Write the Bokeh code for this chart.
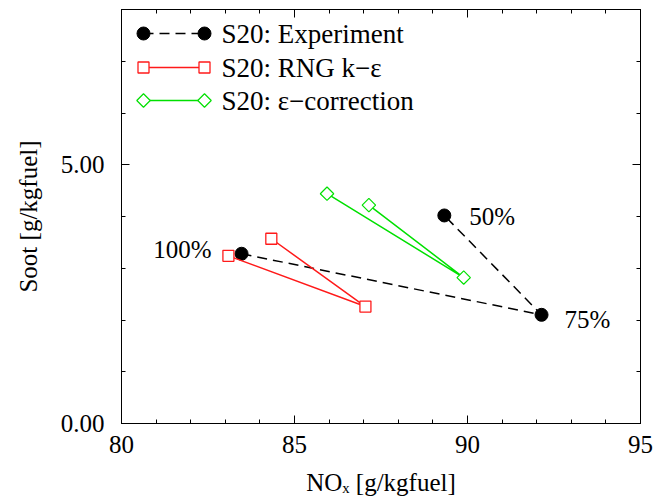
import math
from bokeh.plotting import figure
from bokeh.models import Label, LinearAxis, FixedTicker, NumeralTickFormatter, Range1d
from bokeh.embed import file_html
from bokeh.resources import INLINE

# ---------------- data ----------------
exp_nox = [83.47, 92.14, 89.33]
exp_soot = [3.28, 2.10, 4.02]
exp_load = ["100%", "75%", "50%"]
rng_nox = [83.09, 87.05, 84.33]
rng_soot = [3.24, 2.26, 3.57]
eps_nox = [85.94, 89.89, 87.15]
eps_soot = [4.44, 2.82, 4.22]
series_names = ["S20: Experiment", "S20: RNG k\u2212\u03b5", "S20: \u03b5\u2212correction"]
x_title = "NO\u2093 [g/kgfuel]"
y_title = "Soot [g/kgfuel]"
x_major = [80, 85, 90, 95]
x_minor = list(range(80, 96))
y_major = [0, 5]
y_minor = list(range(0, 9))
x_lo, x_hi = 80, 95
y_lo, y_hi = 0, 8

# ---------------- layout ----------------
W, H = 672, 500
ML, MR, MT = 121, 32, 9
FRAME_BOTTOM = 423
MB = H - FRAME_BOTTOM
FW, FH = W - ML - MR, FRAME_BOTTOM - MT
FONT = "Liberation Serif"
BLACK = "black"
RED = "#ff1a1a"
GREEN = "#00e000"

p = figure(width=W, height=H, x_range=Range1d(x_lo, x_hi), y_range=Range1d(y_lo, y_hi),
           output_backend="svg", toolbar_location=None,
           min_border_left=ML, min_border_right=MR, min_border_top=MT, min_border_bottom=MB)
p.grid.visible = False
p.outline_line_color = "black"
p.outline_line_width = 1
p.background_fill_color = "white"
p.border_fill_color = "white"

def style_axis(ax, show_labels, ticks):
    ax.axis_line_color = "black"
    ax.axis_line_width = 1
    ax.major_tick_in = 8
    ax.major_tick_out = 0
    ax.minor_tick_in = 4
    ax.minor_tick_out = 0
    ax.major_tick_line_color = "black"
    ax.minor_tick_line_color = "black"
    ax.major_label_text_font = FONT
    ax.major_label_text_color = "black"
    ax.major_label_text_font_size = "25px"
    ax.axis_label_text_font = FONT
    ax.axis_label_text_font_size = "25px"
    ax.axis_label_text_font_style = "normal"
    ax.axis_label_text_color = "black"
    if not show_labels:
        ax.major_label_overrides = {t: "" for t in ticks}
        ax.major_label_standoff = 0

xb = p.xaxis[0]
xb.ticker = FixedTicker(ticks=x_major, minor_ticks=x_minor)
style_axis(xb, True, x_major)
xb.major_label_standoff = 12
xb.axis_label = x_title
xb.axis_label_standoff = 13

yl = p.yaxis[0]
yl.ticker = FixedTicker(ticks=y_major, minor_ticks=y_minor)
yl.formatter = NumeralTickFormatter(format="0.00")
style_axis(yl, True, y_major)
yl.major_label_standoff = 17
yl.axis_label = y_title
yl.axis_label_standoff = 16

xt = LinearAxis(ticker=FixedTicker(ticks=x_major, minor_ticks=x_minor))
style_axis(xt, False, x_major)
p.add_layout(xt, "above")
yr = LinearAxis(ticker=FixedTicker(ticks=y_major, minor_ticks=y_minor))
style_axis(yr, False, y_major)
p.add_layout(yr, "right")

# ---------------- series ----------------
p.line(exp_nox, exp_soot, line_color=BLACK, line_width=1.5, line_dash="10 6")
p.scatter(exp_nox, exp_soot, marker="circle", size=13, fill_color=BLACK, line_color=BLACK)

p.line(rng_nox, rng_soot, line_color=RED, line_width=1.5)
p.scatter(rng_nox, rng_soot, marker="square", size=11, fill_color="white", line_color=RED, line_width=1.3)

p.line(eps_nox, eps_soot, line_color=GREEN, line_width=1.5)
p.scatter(eps_nox, eps_soot, marker="square", size=9.5, angle=math.pi / 4,
          fill_color="white", line_color=GREEN, line_width=1.2)

# load labels next to experiment points
label_offsets = {"100%": (-30, 4, "right"), "75%": (23, -5, "left"), "50%": (25, -1, "left")}
for xv, yv, txt in zip(exp_nox, exp_soot, exp_load):
    dx, dy, align = label_offsets[txt]
    p.add_layout(Label(x=xv, y=yv, x_offset=dx, y_offset=dy, text=txt, text_align=align,
                       text_baseline="middle", text_font=FONT, text_font_size="25px",
                       text_color="black"))

# ---------------- legend (drawn by hand: markers at both ends) ----------------
def px_to_x(px):
    return x_lo + (px - ML) * (x_hi - x_lo) / FW

def py_to_y(py):
    return y_lo + (FRAME_BOTTOM - py) * (y_hi - y_lo) / FH

leg_rows = [33, 67, 100]
leg_x0, leg_x1, leg_text = 143, 204, 221
styles = [
    dict(color=BLACK, dash="10 6", marker="circle", size=13, fill=BLACK, angle=0, lw=1.0),
    dict(color=RED, dash="solid", marker="square", size=11, fill="white", angle=0, lw=1.3),
    dict(color=GREEN, dash="solid", marker="square", size=9.5, fill="white", angle=math.pi / 4, lw=1.2),
]
for row, name, st in zip(leg_rows, series_names, styles):
    ys = [py_to_y(row), py_to_y(row)]
    xs = [px_to_x(leg_x0), px_to_x(leg_x1)]
    p.line(xs, ys, line_color=st["color"], line_width=1.5, line_dash=st["dash"])
    p.scatter(xs, ys, marker=st["marker"], size=st["size"], angle=st["angle"],
              fill_color=st["fill"], line_color=st["color"], line_width=st["lw"])
    p.add_layout(Label(x=leg_text - ML, y=FRAME_BOTTOM - row, x_units="screen", y_units="screen",
                       text=name, text_baseline="middle", text_font=FONT,
                       text_font_size="27px", text_color="black"))

open("out.html", "w").write(file_html(p, INLINE))
